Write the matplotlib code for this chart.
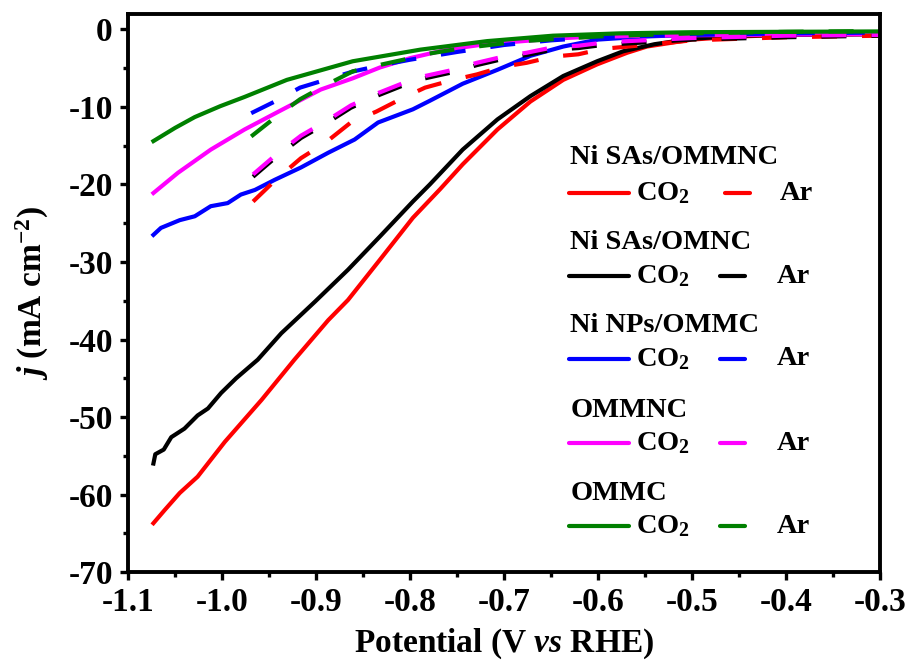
import matplotlib
matplotlib.use("Agg")
import matplotlib.pyplot as plt
from matplotlib.ticker import MultipleLocator, FormatStrFormatter

plt.rcParams['font.family'] = 'Liberation Serif'
plt.rcParams['font.weight'] = 'bold'
plt.rcParams['mathtext.fontset'] = 'custom'
plt.rcParams['mathtext.rm'] = 'Liberation Serif:bold'
plt.rcParams['mathtext.bf'] = 'Liberation Serif:bold'
plt.rcParams['mathtext.it'] = 'Liberation Serif:bold:italic'
plt.rcParams['axes.unicode_minus'] = False

# LSV data (V vs RHE, mA cm-2)
v_red_co2 = [-1.073, -1.061, -1.045, -1.026, -0.997, -0.958, -0.923, -0.887, -0.866, -0.832,
             -0.797, -0.768, -0.744, -0.707, -0.672, -0.637, -0.601, -0.569, -0.548, -0.50,
             -0.45, -0.40, -0.30]
j_red_co2 = [-63.7, -62.0, -59.8, -57.7, -53.2, -47.8, -42.6, -37.5, -34.9, -29.7,
             -24.3, -20.6, -17.4, -12.9, -9.3, -6.5, -4.5, -3.0, -2.2, -1.3,
             -0.9, -0.7, -0.6]

v_black_co2 = [-1.073, -1.071, -1.062, -1.054, -1.040, -1.026, -1.015, -1.001, -0.985, -0.962,
               -0.937, -0.901, -0.866, -0.832, -0.797, -0.779, -0.744, -0.707, -0.672, -0.637,
               -0.601, -0.573, -0.54, -0.50, -0.45, -0.40, -0.30]
j_black_co2 = [-56.0, -54.8, -54.2, -52.6, -51.5, -49.8, -48.9, -46.9, -45.0, -42.6,
               -39.2, -35.1, -31.0, -26.7, -22.2, -20.0, -15.5, -11.6, -8.6, -6.0,
               -4.1, -2.8, -1.9, -1.2, -0.8, -0.7, -0.6]

v_blue_co2 = [-1.073, -1.065, -1.057, -1.045, -1.029, -1.012, -0.994, -0.980, -0.965, -0.944,
              -0.916, -0.887, -0.859, -0.834, -0.797, -0.779, -0.744, -0.707, -0.672, -0.637,
              -0.60, -0.55, -0.50, -0.40, -0.30]
j_blue_co2 = [-26.5, -25.6, -25.2, -24.6, -24.1, -22.8, -22.4, -21.3, -20.7, -19.4,
              -17.8, -15.9, -14.2, -12.0, -10.3, -9.2, -7.0, -5.2, -3.4, -2.2,
              -1.3, -0.9, -0.7, -0.5, -0.4]

v_mag_co2 = [-1.073, -1.047, -1.012, -0.976, -0.940, -0.895, -0.861, -0.832, -0.80, -0.761,
             -0.72, -0.690, -0.65, -0.619, -0.55, -0.45, -0.30]
j_mag_co2 = [-21.1, -18.5, -15.5, -12.9, -10.6, -7.75, -6.3, -4.9, -3.7, -2.6,
             -1.9, -1.6, -1.2, -1.0, -0.8, -0.7, -0.6]

v_green_co2 = [-1.073, -1.050, -1.029, -1.002, -0.976, -0.931, -0.861, -0.789, -0.718, -0.648,
               -0.577, -0.50, -0.40, -0.30]
j_green_co2 = [-14.4, -12.7, -11.3, -9.9, -8.7, -6.5, -4.1, -2.6, -1.5, -0.8,
               -0.5, -0.35, -0.3, -0.25]

v_red_ar = [-0.967, -0.943, -0.916, -0.890, -0.863, -0.836, -0.807, -0.784, -0.754, -0.729,
            -0.701, -0.676, -0.648, -0.621, -0.595, -0.568, -0.50, -0.40, -0.30]
j_red_ar = [-22.2, -19.4, -16.6, -14.6, -12.0, -10.6, -8.8, -7.5, -6.5, -5.8,
            -4.8, -4.3, -3.5, -3.2, -2.5, -2.2, -1.4, -1.0, -0.8]

v_mag_ar = [-0.967, -0.943, -0.916, -0.889, -0.863, -0.836, -0.807, -0.784, -0.754, -0.729,
            -0.701, -0.676, -0.648, -0.621, -0.595, -0.568, -0.50, -0.40, -0.30]
j_mag_ar = [-18.7, -16.2, -13.7, -11.8, -9.8, -8.3, -6.9, -6.0, -5.2, -4.3,
            -3.5, -3.0, -2.3, -2.1, -1.7, -1.5, -1.1, -0.8, -0.7]

v_black_ar = v_mag_ar
j_black_ar = [-19.0, -16.5, -14.0, -12.1, -10.1, -8.6, -7.2, -6.3, -5.5, -4.6,
              -3.8, -3.3, -2.6, -2.4, -2.0, -1.8, -1.3, -1.0, -0.8]

v_blue_ar = [-0.969, -0.944, -0.917, -0.890, -0.86, -0.83, -0.80, -0.75, -0.70, -0.65,
             -0.60, -0.50, -0.40, -0.30]
j_blue_ar = [-10.8, -9.3, -7.5, -6.5, -5.4, -4.6, -3.9, -2.9, -2.0, -1.4,
             -1.0, -0.7, -0.5, -0.4]

v_green_ar = [-0.969, -0.944, -0.917, -0.890, -0.861, -0.837, -0.807, -0.784, -0.754, -0.729,
              -0.68, -0.60, -0.50, -0.40, -0.30]
j_green_ar = [-13.8, -11.4, -9.0, -7.2, -5.4, -4.7, -3.9, -3.2, -2.6, -2.2,
              -1.5, -0.9, -0.5, -0.3, -0.2]

samples = ['Ni SAs/OMMNC', 'Ni SAs/OMNC', 'Ni NPs/OMMC', 'OMMNC', 'OMMC']
colors = ['#ff0000', '#000000', '#0000ff', '#ff00ff', '#008000']

fig = plt.figure(figsize=(9.10, 6.66), dpi=100)
ax = fig.add_axes([0.1407, 0.1411, 0.8264, 0.8379])

lw = 3.0
dash = (0, (6, 6))
ax.plot(v_red_co2, j_red_co2, color=colors[0], lw=lw)
ax.plot(v_black_co2, j_black_co2, color=colors[1], lw=lw)
ax.plot(v_blue_co2, j_blue_co2, color=colors[2], lw=lw)
ax.plot(v_mag_co2, j_mag_co2, color=colors[3], lw=lw)
ax.plot(v_red_ar, j_red_ar, color=colors[0], lw=lw, ls=dash)
ax.plot(v_black_ar, j_black_ar, color=colors[1], lw=lw, ls=dash)
ax.plot(v_blue_ar, j_blue_ar, color=colors[2], lw=lw, ls=dash)
ax.plot(v_mag_ar, j_mag_ar, color=colors[3], lw=lw, ls=dash)
ax.plot(v_green_ar, j_green_ar, color=colors[4], lw=lw, ls=dash)
ax.plot(v_green_co2, j_green_co2, color=colors[4], lw=lw)

ax.set_xlim(-1.1, -0.3)
ax.set_ylim(-70, 2)
ax.xaxis.set_major_locator(MultipleLocator(0.1))
ax.xaxis.set_minor_locator(MultipleLocator(0.05))
ax.yaxis.set_major_locator(MultipleLocator(10))
ax.yaxis.set_minor_locator(MultipleLocator(5))
ax.xaxis.set_major_formatter(FormatStrFormatter('%.1f'))
ax.yaxis.set_major_formatter(FormatStrFormatter('%d'))
ax.tick_params(which='major', direction='out', length=6, width=2.4, labelsize=24, pad=5)
ax.tick_params(which='minor', direction='out', length=3.5, width=2.4)
ax.tick_params(top=False, right=False)
for s in ax.spines.values():
    s.set_linewidth(2.8)

ax.set_xlabel('Potential (V $vs$ RHE)', fontsize=24, fontweight='bold')
ax.set_ylabel('$j$ (mA cm$^{-2}$)', fontsize=24, fontweight='bold')
ax.xaxis.set_label_coords(0.5, -0.098)
ax.yaxis.set_label_coords(-0.102, 0.5)

# hand-made legend
title_y = [0.742, 0.591, 0.441, 0.290, 0.141]
row_y = [0.679, 0.530, 0.382, 0.231, 0.082]
for i, name in enumerate(samples):
    ax.text(0.588, title_y[i], name, transform=ax.transAxes, fontsize=20.5,
            fontweight='bold', va='center', ha='left')
    ax.plot([0.586, 0.666], [row_y[i], row_y[i]], color=colors[i], lw=lw,
            transform=ax.transAxes, clip_on=False, solid_capstyle='round')
    ax.text(0.676, row_y[i], 'CO$_2$', transform=ax.transAxes, fontsize=20.5,
            fontweight='bold', va='center', ha='left')
    dx = 0.007 if i == 0 else 0.0
    ax.plot([0.787 + dx, 0.820 + dx], [row_y[i], row_y[i]], color=colors[i], lw=lw,
            transform=ax.transAxes, clip_on=False, solid_capstyle='round')
    ax.text(0.863 + dx * 0.6, row_y[i], 'Ar', transform=ax.transAxes, fontsize=20.5,
            fontweight='bold', va='center', ha='left')

fig.savefig('out.png', dpi=100)
